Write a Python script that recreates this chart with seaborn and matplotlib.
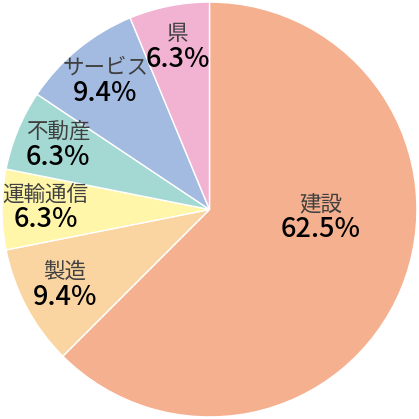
from decimal import Decimal, ROUND_HALF_UP
import numpy as np
import matplotlib
matplotlib.use("Agg")
import matplotlib.pyplot as plt
import seaborn as sns

categories = ["建設", "製造", "運輸通信", "不動産", "サービス", "県"]
counts = [20, 3, 2, 2, 3, 2]
colors = ["#F5B08F", "#FBD5A1", "#FFF6AA", "#A4D9D3", "#A3BBE1", "#F2B3D3"]

sns.set_theme(style="white")
plt.rcParams["font.family"] = ["Noto Sans CJK JP", "DejaVu Sans"]

fig = plt.figure(figsize=(4.19, 4.19), dpi=100)
ax = fig.add_axes([0, 0, 1, 1])

wedges, _ = ax.pie(counts, colors=colors, startangle=90, counterclock=False,
                   radius=1.0, wedgeprops=dict(edgecolor="white", linewidth=1.0))

total = sum(counts)
for i, (w, cat, n) in enumerate(zip(wedges, categories, counts)):
    mid = np.deg2rad((w.theta1 + w.theta2) / 2)
    dist = 0.79
    if i == 0:
        # big slice: label sits nearer the middle, as in the original
        mid = np.deg2rad(-5)
        dist = 0.54
    x, y = dist * np.cos(mid), dist * np.sin(mid)
    pct = Decimal(n * 100) / Decimal(total)
    pct = pct.quantize(Decimal("0.1"), rounding=ROUND_HALF_UP)
    ax.text(x, y + 0.02, cat, ha="center", va="bottom", fontsize=15.5,
            color="#404040")
    ax.text(x, y + 0.015, f"{pct}%", ha="center", va="top",
            fontsize=19.5, color="black", fontweight="medium")

ax.set_xlim(-1.01, 1.01)
ax.set_ylim(-1.01, 1.01)
ax.set_aspect("equal")
ax.axis("off")

fig.savefig("out.png", dpi=100, facecolor="white")
